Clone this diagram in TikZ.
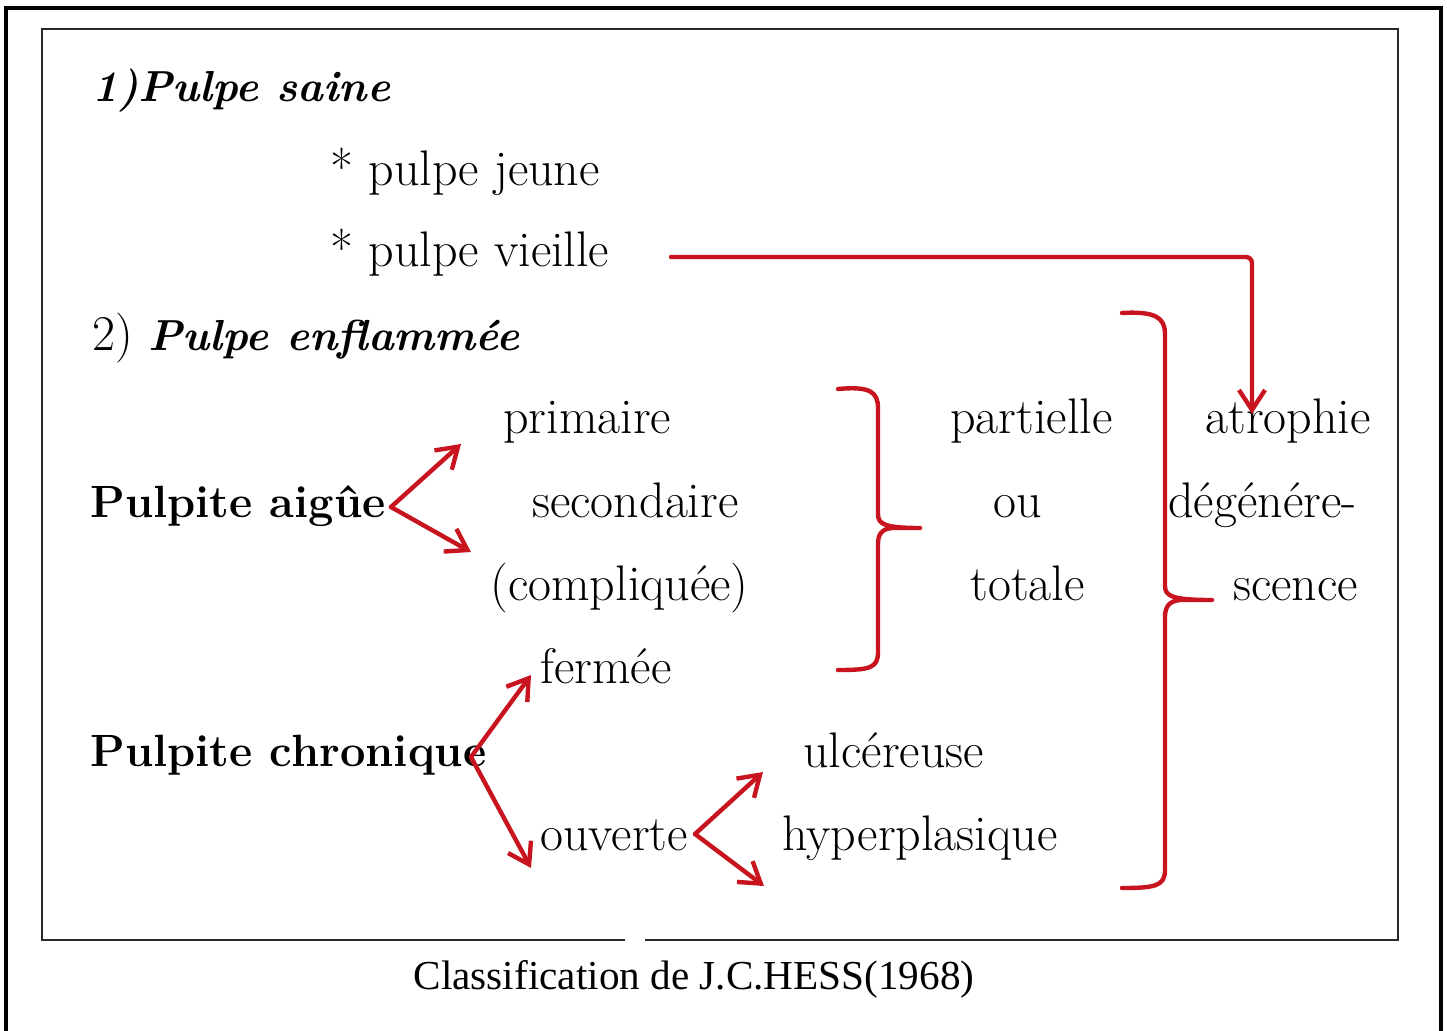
\documentclass[tikz,border=0pt]{standalone}
\usepackage{fontspec}
\newfontfamily\capfont{Liberation Serif}
\usepackage{tikz}
\usetikzlibrary{arrows.meta,positioning,calc}

\definecolor{hessred}{RGB}{200,20,30}
\definecolor{framegray}{RGB}{40,40,40}

\newcommand\bodysize{\fontsize{25}{29}\selectfont}
\newcommand\headsize{\fontsize{21.7}{26}\selectfont}

\tikzset{
  txt/.style={anchor=base west, inner sep=0pt, font=\bodysize},
  head/.style={txt, font=\headsize\bfseries\itshape},
  pulpite/.style={txt, font=\fontsize{22.6}{27}\selectfont\bfseries},
  redline/.style={hessred, line width=2.2pt, line cap=round, line join=round},
  redarrow/.style={redline, -{Straight Barb[length=10pt, width=13pt, line width=2.2pt]}},
}

\begin{document}
\begin{tikzpicture}[x=0.5pt, y=-0.5pt]
  \useasboundingbox (0,0) rectangle (1447,1030);

  % Frames
  \draw[line width=1.6pt] (6,1040) -- (6,8) -- (1441,8) -- (1441,1040);
  \draw[framegray, line width=1.3pt] (625,940) -- (42,940) -- (42,29) -- (1398,29) -- (1398,940) -- (645,940);

  % 1) Pulpe saine
  \node[head] (saine) at (92,101) {1)Pulpe saine};
  \node[txt] (jeune) at (330,185) {* pulpe jeune};
  \node[txt] (vieille) at (330,266) {* pulpe vieille};

  % 2) Pulpe enflammee
  \node[txt] (enfl) at (92,350) {2) {\headsize\bfseries\itshape Pulpe enflammée}};

  \node[pulpite] (aigue) at (90,517) {Pulpite aigûe};
  \node[txt] (primaire) at (503,433) {primaire};
  \node[txt] (second) at (532,517) {secondaire};
  \node[txt] (compl) at (490,600) {(compliquée)};

  \node[pulpite] (chron) at (90,766) {Pulpite chronique};
  \node[txt] (fermee) at (540,683) {fermée};
  \node[txt] (ouverte) at (540,850) {ouverte};
  \node[txt] (ulcer) at (803,767) {ulcéreuse};
  \node[txt] (hyper) at (782,850) {hyperplasique};

  \node[txt] (part) at (950,433) {partielle};
  \node[txt] (ou) at (993,517) {ou};
  \node[txt] (totale) at (970,600) {totale};

  \node[txt] (atro) at (1205,433) {atrophie};
  \node[txt] (degen) at (1168,517) {dégénére-};
  \node[txt] (scence) at (1233,600) {scence};

  % Caption
  \node[anchor=base, inner sep=0pt, font=\capfont\fontsize{20.6}{25}\selectfont] (caption) at (694,989) {Classification de J.C.HESS(1968)};

  % Free ends of the arrows
  \coordinate (aig0) at (391,507);
  \coordinate (aig1) at (461,444);
  \coordinate (aig2) at (471,552);
  \coordinate (chr0) at (471,757);
  \coordinate (chr1) at (531,675);
  \coordinate (chr2) at (531,868);
  \coordinate (ouv0) at (695,834);
  \coordinate (ouv1) at (763,772);
  \coordinate (ouv2) at (764,886);
  \coordinate (vie0) at (671,257);
  \coordinate (vie1) at (1252,414);

  % Arrows
  \draw[redarrow] (aig0) -- (aig1);
  \draw[redarrow] (aig0) -- (aig2);
  \draw[redarrow] (chr0) -- (chr1);
  \draw[redarrow] (chr0) -- (chr2);
  \draw[redarrow] (ouv0) -- (ouv1);
  \draw[redarrow] (ouv0) -- (ouv2);
  \draw[redarrow, rounded corners=3pt] (vie0) -| (vie1);

  % Braces
  \draw[redline] (838,389) .. controls (870,386) and (878,392) .. (878,408) -- (878,514)
    .. controls (878,524) and (884,528) .. (920,528) -- (892,528)
    .. controls (881,529) and (878,535) .. (878,544) -- (878,652)
    .. controls (878,668) and (870,670) .. (838,670);
  \draw[redline] (1122,313) .. controls (1156,311) and (1165,318) .. (1165,334) -- (1165,586)
    .. controls (1165,596) and (1172,600) .. (1212,600) -- (1180,600)
    .. controls (1169,601) and (1165,607) .. (1165,617) -- (1165,870)
    .. controls (1165,886) and (1155,888) .. (1122,888);
\end{tikzpicture}
\end{document}
